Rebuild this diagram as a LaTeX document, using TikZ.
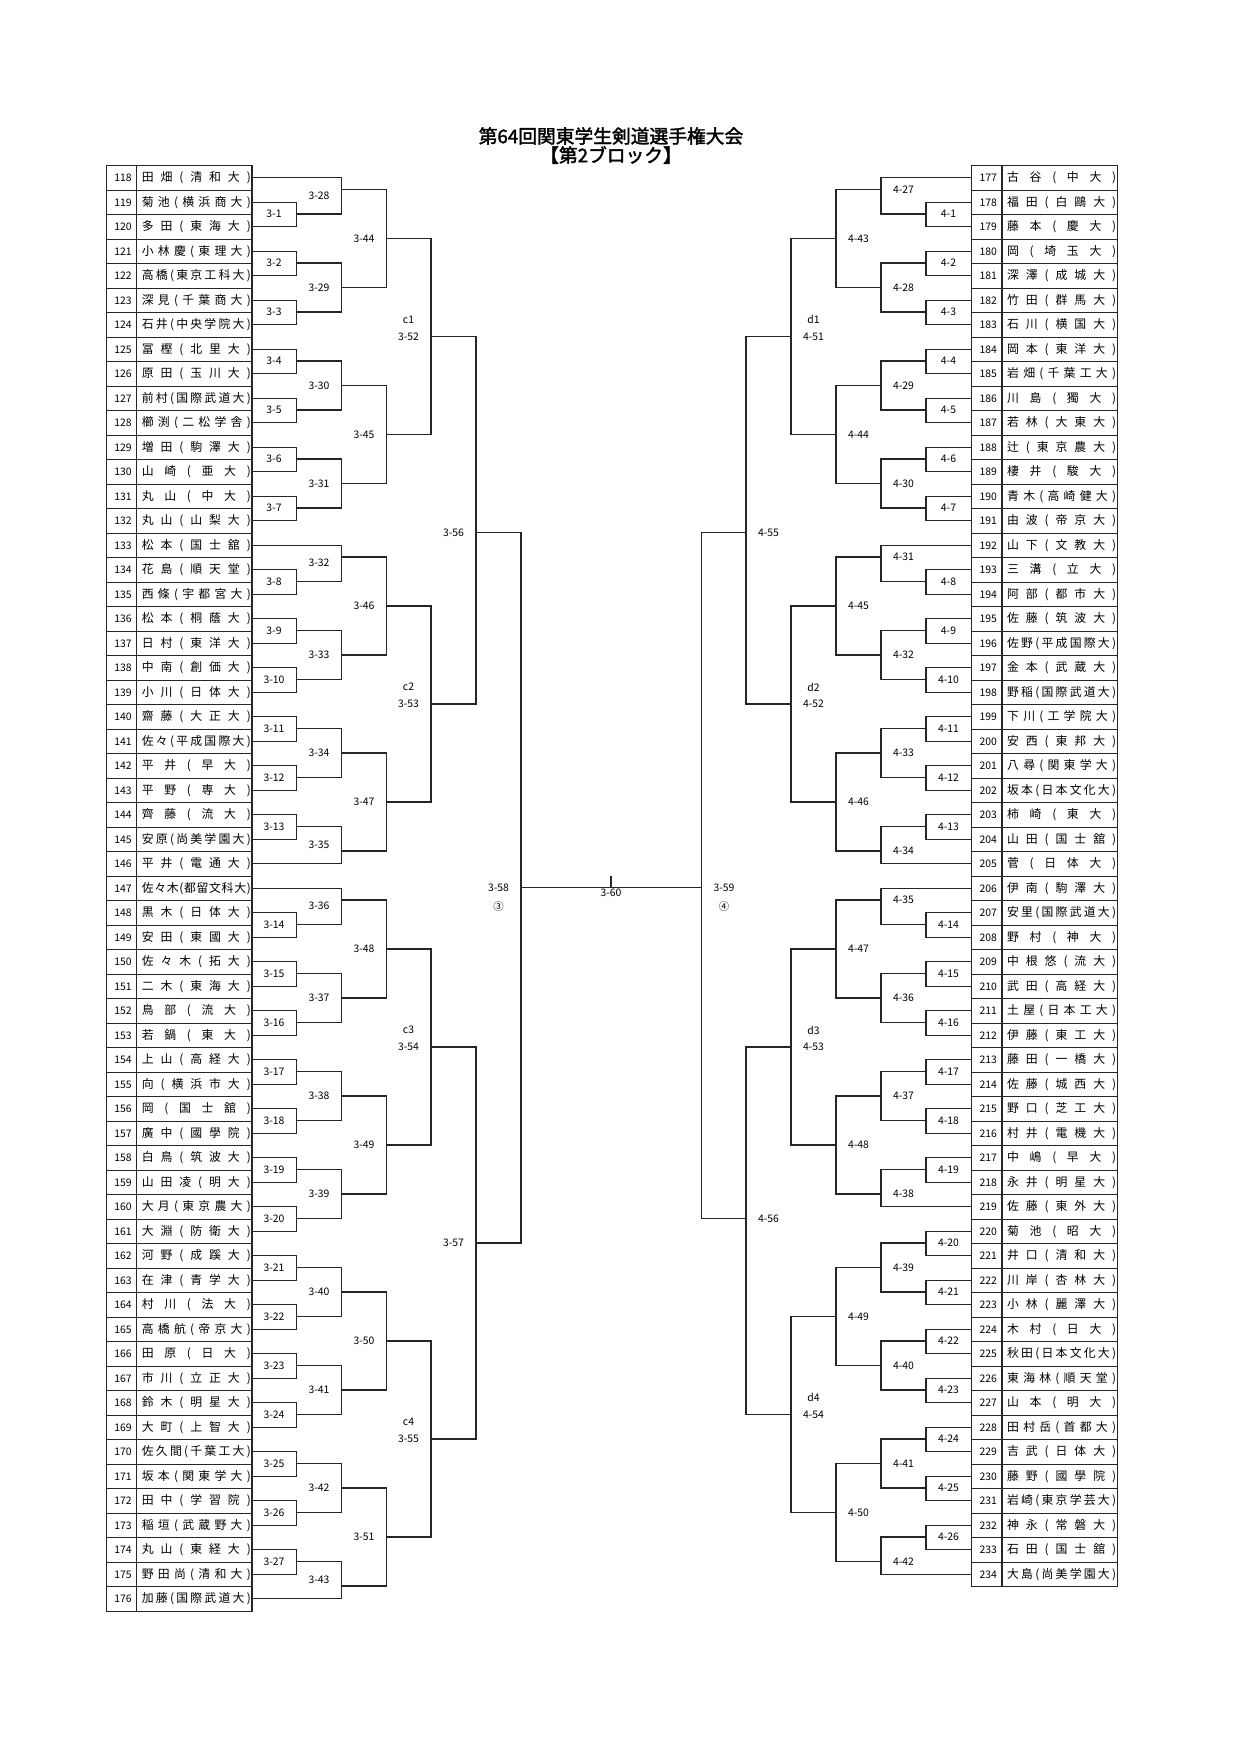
\documentclass[tikz,border=0pt]{standalone}
\usepackage{fontspec}
\setmainfont{Noto Sans CJK JP}[AutoFakeBold=2]
\usepackage{tikz}

\begin{document}
\begin{tikzpicture}[
            x=0.48pt, y=-11.76pt,
            tbl/.style={draw=black!85, line width=0.6pt},
            player/.style={tbl, minimum width=69.9pt, minimum height=11.76pt, inner sep=0pt, anchor=north west},
            link/.style={draw=black!85, line width=0.5pt},
            lbl/.style={inner sep=0.5pt, font=\fontsize{5}{6}\selectfont},
            lbl L/.style={lbl, xshift=-10.8pt},
            lbl R/.style={lbl, xshift=10.8pt},
            lbl up/.style={yshift=2.94pt},
            lbl down/.style={yshift=-2.94pt},
            heading/.style={font=\bfseries\fontsize{9}{10}\selectfont, inner sep=0pt},
            ]
            \def\pl#1#2{\makebox[14.9pt]{\fontsize{5}{6}\selectfont #1}\hspace{1.6pt}\hbox to 52.3pt{\fontsize{5.7}{6}\selectfont\spaceskip=0pt plus 1fil\relax #2}}
            \def\XL{105.7}
            \def\XR{971}
            \def\Xa{296.5} \def\Xb{341.5} \def\Xc{386.5} \def\Xd{431} \def\Xe{476} \def\Xf{521}
            \def\Ya{926} \def\Yb{881} \def\Yc{836} \def\Yd{791} \def\Ye{746} \def\Yf{701.5}

            \fill[white] (0,-6.7347) rectangle (1240,64.8163);

            \node[heading] (t1) at (611,-1.184) {第64回関東学生剣道選手権大会};
            \node[heading] (t2) at (611,-0.408) {【第2ブロック】};

            \node[player] (p118) at (\XL,0) {\pl{118}{田 畑 ( 清 和 大 )}};
            \node[player] (p119) at (\XL,1) {\pl{119}{菊 池 ( 横 浜 商 大 )}};
            \node[player] (p120) at (\XL,2) {\pl{120}{多 田 ( 東 海 大 )}};
            \node[player] (p121) at (\XL,3) {\pl{121}{小 林 慶 ( 東 理 大 )}};
            \node[player] (p122) at (\XL,4) {\pl{122}{高 橋 ( 東 京 工 科 大 )}};
            \node[player] (p123) at (\XL,5) {\pl{123}{深 見 ( 千 葉 商 大 )}};
            \node[player] (p124) at (\XL,6) {\pl{124}{石 井 ( 中 央 学 院 大 )}};
            \node[player] (p125) at (\XL,7) {\pl{125}{冨 樫 ( 北 里 大 )}};
            \node[player] (p126) at (\XL,8) {\pl{126}{原 田 ( 玉 川 大 )}};
            \node[player] (p127) at (\XL,9) {\pl{127}{前 村 ( 国 際 武 道 大 )}};
            \node[player] (p128) at (\XL,10) {\pl{128}{櫛 渕 ( 二 松 学 舎 )}};
            \node[player] (p129) at (\XL,11) {\pl{129}{増 田 ( 駒 澤 大 )}};
            \node[player] (p130) at (\XL,12) {\pl{130}{山 崎 ( 亜 大 )}};
            \node[player] (p131) at (\XL,13) {\pl{131}{丸 山 ( 中 大 )}};
            \node[player] (p132) at (\XL,14) {\pl{132}{丸 山 ( 山 梨 大 )}};
            \node[player] (p133) at (\XL,15) {\pl{133}{松 本 ( 国 士 舘 )}};
            \node[player] (p134) at (\XL,16) {\pl{134}{花 島 ( 順 天 堂 )}};
            \node[player] (p135) at (\XL,17) {\pl{135}{西 條 ( 宇 都 宮 大 )}};
            \node[player] (p136) at (\XL,18) {\pl{136}{松 本 ( 桐 蔭 大 )}};
            \node[player] (p137) at (\XL,19) {\pl{137}{日 村 ( 東 洋 大 )}};
            \node[player] (p138) at (\XL,20) {\pl{138}{中 南 ( 創 価 大 )}};
            \node[player] (p139) at (\XL,21) {\pl{139}{小 川 ( 日 体 大 )}};
            \node[player] (p140) at (\XL,22) {\pl{140}{齋 藤 ( 大 正 大 )}};
            \node[player] (p141) at (\XL,23) {\pl{141}{佐 々 ( 平 成 国 際 大 )}};
            \node[player] (p142) at (\XL,24) {\pl{142}{平 井 ( 早 大 )}};
            \node[player] (p143) at (\XL,25) {\pl{143}{平 野 ( 専 大 )}};
            \node[player] (p144) at (\XL,26) {\pl{144}{齊 藤 ( 流 大 )}};
            \node[player] (p145) at (\XL,27) {\pl{145}{安 原 ( 尚 美 学 園 大 )}};
            \node[player] (p146) at (\XL,28) {\pl{146}{平 井 ( 電 通 大 )}};
            \node[player] (p147) at (\XL,29) {\pl{147}{佐 々 木 ( 都 留 文 科 大 )}};
            \node[player] (p148) at (\XL,30) {\pl{148}{黒 木 ( 日 体 大 )}};
            \node[player] (p149) at (\XL,31) {\pl{149}{安 田 ( 東 國 大 )}};
            \node[player] (p150) at (\XL,32) {\pl{150}{佐 々 木 ( 拓 大 )}};
            \node[player] (p151) at (\XL,33) {\pl{151}{二 木 ( 東 海 大 )}};
            \node[player] (p152) at (\XL,34) {\pl{152}{鳥 部 ( 流 大 )}};
            \node[player] (p153) at (\XL,35) {\pl{153}{若 鍋 ( 東 大 )}};
            \node[player] (p154) at (\XL,36) {\pl{154}{上 山 ( 高 経 大 )}};
            \node[player] (p155) at (\XL,37) {\pl{155}{向 ( 横 浜 市 大 )}};
            \node[player] (p156) at (\XL,38) {\pl{156}{岡 ( 国 士 舘 )}};
            \node[player] (p157) at (\XL,39) {\pl{157}{廣 中 ( 國 學 院 )}};
            \node[player] (p158) at (\XL,40) {\pl{158}{白 鳥 ( 筑 波 大 )}};
            \node[player] (p159) at (\XL,41) {\pl{159}{山 田 凌 ( 明 大 )}};
            \node[player] (p160) at (\XL,42) {\pl{160}{大 月 ( 東 京 農 大 )}};
            \node[player] (p161) at (\XL,43) {\pl{161}{大 淵 ( 防 衛 大 )}};
            \node[player] (p162) at (\XL,44) {\pl{162}{河 野 ( 成 蹊 大 )}};
            \node[player] (p163) at (\XL,45) {\pl{163}{在 津 ( 青 学 大 )}};
            \node[player] (p164) at (\XL,46) {\pl{164}{村 川 ( 法 大 )}};
            \node[player] (p165) at (\XL,47) {\pl{165}{高 橋 航 ( 帝 京 大 )}};
            \node[player] (p166) at (\XL,48) {\pl{166}{田 原 ( 日 大 )}};
            \node[player] (p167) at (\XL,49) {\pl{167}{市 川 ( 立 正 大 )}};
            \node[player] (p168) at (\XL,50) {\pl{168}{鈴 木 ( 明 星 大 )}};
            \node[player] (p169) at (\XL,51) {\pl{169}{大 町 ( 上 智 大 )}};
            \node[player] (p170) at (\XL,52) {\pl{170}{佐 久 間 ( 千 葉 工 大 )}};
            \node[player] (p171) at (\XL,53) {\pl{171}{坂 本 ( 関 東 学 大 )}};
            \node[player] (p172) at (\XL,54) {\pl{172}{田 中 ( 学 習 院 )}};
            \node[player] (p173) at (\XL,55) {\pl{173}{稲 垣 ( 武 蔵 野 大 )}};
            \node[player] (p174) at (\XL,56) {\pl{174}{丸 山 ( 東 経 大 )}};
            \node[player] (p175) at (\XL,57) {\pl{175}{野 田 尚 ( 清 和 大 )}};
            \node[player] (p176) at (\XL,58) {\pl{176}{加 藤 ( 国 際 武 道 大 )}};

            \node[player] (p177) at (\XR,0) {\pl{177}{古 谷 ( 中 大 )}};
            \node[player] (p178) at (\XR,1) {\pl{178}{福 田 ( 白 鷗 大 )}};
            \node[player] (p179) at (\XR,2) {\pl{179}{藤 本 ( 慶 大 )}};
            \node[player] (p180) at (\XR,3) {\pl{180}{岡 ( 埼 玉 大 )}};
            \node[player] (p181) at (\XR,4) {\pl{181}{深 澤 ( 成 城 大 )}};
            \node[player] (p182) at (\XR,5) {\pl{182}{竹 田 ( 群 馬 大 )}};
            \node[player] (p183) at (\XR,6) {\pl{183}{石 川 ( 横 国 大 )}};
            \node[player] (p184) at (\XR,7) {\pl{184}{岡 本 ( 東 洋 大 )}};
            \node[player] (p185) at (\XR,8) {\pl{185}{岩 畑 ( 千 葉 工 大 )}};
            \node[player] (p186) at (\XR,9) {\pl{186}{川 島 ( 獨 大 )}};
            \node[player] (p187) at (\XR,10) {\pl{187}{若 林 ( 大 東 大 )}};
            \node[player] (p188) at (\XR,11) {\pl{188}{辻 ( 東 京 農 大 )}};
            \node[player] (p189) at (\XR,12) {\pl{189}{棲 井 ( 駿 大 )}};
            \node[player] (p190) at (\XR,13) {\pl{190}{青 木 ( 高 崎 健 大 )}};
            \node[player] (p191) at (\XR,14) {\pl{191}{由 波 ( 帝 京 大 )}};
            \node[player] (p192) at (\XR,15) {\pl{192}{山 下 ( 文 教 大 )}};
            \node[player] (p193) at (\XR,16) {\pl{193}{三 溝 ( 立 大 )}};
            \node[player] (p194) at (\XR,17) {\pl{194}{阿 部 ( 都 市 大 )}};
            \node[player] (p195) at (\XR,18) {\pl{195}{佐 藤 ( 筑 波 大 )}};
            \node[player] (p196) at (\XR,19) {\pl{196}{佐 野 ( 平 成 国 際 大 )}};
            \node[player] (p197) at (\XR,20) {\pl{197}{金 本 ( 武 蔵 大 )}};
            \node[player] (p198) at (\XR,21) {\pl{198}{野 稲 ( 国 際 武 道 大 )}};
            \node[player] (p199) at (\XR,22) {\pl{199}{下 川 ( 工 学 院 大 )}};
            \node[player] (p200) at (\XR,23) {\pl{200}{安 西 ( 東 邦 大 )}};
            \node[player] (p201) at (\XR,24) {\pl{201}{八 尋 ( 関 東 学 大 )}};
            \node[player] (p202) at (\XR,25) {\pl{202}{坂 本 ( 日 本 文 化 大 )}};
            \node[player] (p203) at (\XR,26) {\pl{203}{柿 崎 ( 東 大 )}};
            \node[player] (p204) at (\XR,27) {\pl{204}{山 田 ( 国 士 舘 )}};
            \node[player] (p205) at (\XR,28) {\pl{205}{菅 ( 日 体 大 )}};
            \node[player] (p206) at (\XR,29) {\pl{206}{伊 南 ( 駒 澤 大 )}};
            \node[player] (p207) at (\XR,30) {\pl{207}{安 里 ( 国 際 武 道 大 )}};
            \node[player] (p208) at (\XR,31) {\pl{208}{野 村 ( 神 大 )}};
            \node[player] (p209) at (\XR,32) {\pl{209}{中 根 悠 ( 流 大 )}};
            \node[player] (p210) at (\XR,33) {\pl{210}{武 田 ( 高 経 大 )}};
            \node[player] (p211) at (\XR,34) {\pl{211}{土 屋 ( 日 本 工 大 )}};
            \node[player] (p212) at (\XR,35) {\pl{212}{伊 藤 ( 東 工 大 )}};
            \node[player] (p213) at (\XR,36) {\pl{213}{藤 田 ( 一 橋 大 )}};
            \node[player] (p214) at (\XR,37) {\pl{214}{佐 藤 ( 城 西 大 )}};
            \node[player] (p215) at (\XR,38) {\pl{215}{野 口 ( 芝 工 大 )}};
            \node[player] (p216) at (\XR,39) {\pl{216}{村 井 ( 電 機 大 )}};
            \node[player] (p217) at (\XR,40) {\pl{217}{中 嶋 ( 早 大 )}};
            \node[player] (p218) at (\XR,41) {\pl{218}{永 井 ( 明 星 大 )}};
            \node[player] (p219) at (\XR,42) {\pl{219}{佐 藤 ( 東 外 大 )}};
            \node[player] (p220) at (\XR,43) {\pl{220}{菊 池 ( 昭 大 )}};
            \node[player] (p221) at (\XR,44) {\pl{221}{井 口 ( 清 和 大 )}};
            \node[player] (p222) at (\XR,45) {\pl{222}{川 岸 ( 杏 林 大 )}};
            \node[player] (p223) at (\XR,46) {\pl{223}{小 林 ( 麗 澤 大 )}};
            \node[player] (p224) at (\XR,47) {\pl{224}{木 村 ( 日 大 )}};
            \node[player] (p225) at (\XR,48) {\pl{225}{秋 田 ( 日 本 文 化 大 )}};
            \node[player] (p226) at (\XR,49) {\pl{226}{東 海 林 ( 順 天 堂 )}};
            \node[player] (p227) at (\XR,50) {\pl{227}{山 本 ( 明 大 )}};
            \node[player] (p228) at (\XR,51) {\pl{228}{田 村 岳 ( 首 都 大 )}};
            \node[player] (p229) at (\XR,52) {\pl{229}{吉 武 ( 日 体 大 )}};
            \node[player] (p230) at (\XR,53) {\pl{230}{藤 野 ( 國 學 院 )}};
            \node[player] (p231) at (\XR,54) {\pl{231}{岩 崎 ( 東 京 学 芸 大 )}};
            \node[player] (p232) at (\XR,55) {\pl{232}{神 永 ( 常 磐 大 )}};
            \node[player] (p233) at (\XR,56) {\pl{233}{石 田 ( 国 士 舘 )}};
            \node[player] (p234) at (\XR,57) {\pl{234}{大 島 ( 尚 美 学 園 大 )}};

            \draw[tbl] ([xshift=14.88pt]p118.north west) -- ([xshift=14.88pt]p176.south west);
            \draw[tbl] ([xshift=14.88pt]p177.north west) -- ([xshift=14.88pt]p234.south west);

            \draw[link] (p119.east) -| (\Xa,2) coordinate (m3-1) node[lbl L] {3-1} |- (p120.east);
            \draw[link] (p121.east) -| (\Xa,4) coordinate (m3-2) node[lbl L] {3-2} |- (p122.east);
            \draw[link] (p123.east) -| (\Xa,6) coordinate (m3-3) node[lbl L] {3-3} |- (p124.east);
            \draw[link] (p125.east) -| (\Xa,8) coordinate (m3-4) node[lbl L] {3-4} |- (p126.east);
            \draw[link] (p127.east) -| (\Xa,10) coordinate (m3-5) node[lbl L] {3-5} |- (p128.east);
            \draw[link] (p129.east) -| (\Xa,12) coordinate (m3-6) node[lbl L] {3-6} |- (p130.east);
            \draw[link] (p131.east) -| (\Xa,14) coordinate (m3-7) node[lbl L] {3-7} |- (p132.east);
            \draw[link] (p134.east) -| (\Xa,17) coordinate (m3-8) node[lbl L] {3-8} |- (p135.east);
            \draw[link] (p136.east) -| (\Xa,19) coordinate (m3-9) node[lbl L] {3-9} |- (p137.east);
            \draw[link] (p138.east) -| (\Xa,21) coordinate (m3-10) node[lbl L] {3-10} |- (p139.east);
            \draw[link] (p140.east) -| (\Xa,23) coordinate (m3-11) node[lbl L] {3-11} |- (p141.east);
            \draw[link] (p142.east) -| (\Xa,25) coordinate (m3-12) node[lbl L] {3-12} |- (p143.east);
            \draw[link] (p144.east) -| (\Xa,27) coordinate (m3-13) node[lbl L] {3-13} |- (p145.east);
            \draw[link] (p148.east) -| (\Xa,31) coordinate (m3-14) node[lbl L] {3-14} |- (p149.east);
            \draw[link] (p150.east) -| (\Xa,33) coordinate (m3-15) node[lbl L] {3-15} |- (p151.east);
            \draw[link] (p152.east) -| (\Xa,35) coordinate (m3-16) node[lbl L] {3-16} |- (p153.east);
            \draw[link] (p154.east) -| (\Xa,37) coordinate (m3-17) node[lbl L] {3-17} |- (p155.east);
            \draw[link] (p156.east) -| (\Xa,39) coordinate (m3-18) node[lbl L] {3-18} |- (p157.east);
            \draw[link] (p158.east) -| (\Xa,41) coordinate (m3-19) node[lbl L] {3-19} |- (p159.east);
            \draw[link] (p160.east) -| (\Xa,43) coordinate (m3-20) node[lbl L] {3-20} |- (p161.east);
            \draw[link] (p162.east) -| (\Xa,45) coordinate (m3-21) node[lbl L] {3-21} |- (p163.east);
            \draw[link] (p164.east) -| (\Xa,47) coordinate (m3-22) node[lbl L] {3-22} |- (p165.east);
            \draw[link] (p166.east) -| (\Xa,49) coordinate (m3-23) node[lbl L] {3-23} |- (p167.east);
            \draw[link] (p168.east) -| (\Xa,51) coordinate (m3-24) node[lbl L] {3-24} |- (p169.east);
            \draw[link] (p170.east) -| (\Xa,53) coordinate (m3-25) node[lbl L] {3-25} |- (p171.east);
            \draw[link] (p172.east) -| (\Xa,55) coordinate (m3-26) node[lbl L] {3-26} |- (p173.east);
            \draw[link] (p174.east) -| (\Xa,57) coordinate (m3-27) node[lbl L] {3-27} |- (p175.east);

            \draw[link] (p118.east) -| (\Xb,1) coordinate (m3-28) node[lbl L, lbl down] {3-28} |- (m3-1);
            \draw[link] (m3-2) -| (\Xb,5) coordinate (m3-29) node[lbl L] {3-29} |- (m3-3);
            \draw[link] (m3-4) -| (\Xb,9) coordinate (m3-30) node[lbl L] {3-30} |- (m3-5);
            \draw[link] (m3-6) -| (\Xb,13) coordinate (m3-31) node[lbl L] {3-31} |- (m3-7);
            \draw[link] (p133.east) -| (\Xb,16) coordinate (m3-32) node[lbl L, lbl down] {3-32} |- (m3-8);
            \draw[link] (m3-9) -| (\Xb,20) coordinate (m3-33) node[lbl L] {3-33} |- (m3-10);
            \draw[link] (m3-11) -| (\Xb,24) coordinate (m3-34) node[lbl L] {3-34} |- (m3-12);
            \draw[link] (m3-13) -| (\Xb,28) coordinate (m3-35) node[lbl L, lbl up] {3-35} |- (p146.east);
            \draw[link] (p147.east) -| (\Xb,30) coordinate (m3-36) node[lbl L, lbl down] {3-36} |- (m3-14);
            \draw[link] (m3-15) -| (\Xb,34) coordinate (m3-37) node[lbl L] {3-37} |- (m3-16);
            \draw[link] (m3-17) -| (\Xb,38) coordinate (m3-38) node[lbl L] {3-38} |- (m3-18);
            \draw[link] (m3-19) -| (\Xb,42) coordinate (m3-39) node[lbl L] {3-39} |- (m3-20);
            \draw[link] (m3-21) -| (\Xb,46) coordinate (m3-40) node[lbl L] {3-40} |- (m3-22);
            \draw[link] (m3-23) -| (\Xb,50) coordinate (m3-41) node[lbl L] {3-41} |- (m3-24);
            \draw[link] (m3-25) -| (\Xb,54) coordinate (m3-42) node[lbl L] {3-42} |- (m3-26);
            \draw[link] (m3-27) -| (\Xb,58) coordinate (m3-43) node[lbl L, lbl up] {3-43} |- (p176.east);

            \draw[link] (m3-28) -| (\Xc,3) coordinate (m3-44) node[lbl L] {3-44} |- (m3-29);
            \draw[link] (m3-30) -| (\Xc,11) coordinate (m3-45) node[lbl L] {3-45} |- (m3-31);
            \draw[link] (m3-32) -| (\Xc,18) coordinate (m3-46) node[lbl L] {3-46} |- (m3-33);
            \draw[link] (m3-34) -| (\Xc,26) coordinate (m3-47) node[lbl L] {3-47} |- (m3-35);
            \draw[link] (m3-36) -| (\Xc,32) coordinate (m3-48) node[lbl L] {3-48} |- (m3-37);
            \draw[link] (m3-38) -| (\Xc,40) coordinate (m3-49) node[lbl L] {3-49} |- (m3-39);
            \draw[link] (m3-40) -| (\Xc,48) coordinate (m3-50) node[lbl L] {3-50} |- (m3-41);
            \draw[link] (m3-42) -| (\Xc,56) coordinate (m3-51) node[lbl L] {3-51} |- (m3-43);

            \draw[link] (m3-44) -| (\Xd,7) coordinate (m3-52) node[lbl L] {3-52} node[lbl L, yshift=8.2pt] {c1} |- (m3-45);
            \draw[link] (m3-46) -| (\Xd,22) coordinate (m3-53) node[lbl L] {3-53} node[lbl L, yshift=8.2pt] {c2} |- (m3-47);
            \draw[link] (m3-48) -| (\Xd,36) coordinate (m3-54) node[lbl L] {3-54} node[lbl L, yshift=8.2pt] {c3} |- (m3-49);
            \draw[link] (m3-50) -| (\Xd,52) coordinate (m3-55) node[lbl L] {3-55} node[lbl L, yshift=8.2pt] {c4} |- (m3-51);

            \draw[link] (m3-52) -| (\Xe,15) coordinate (m3-56) node[lbl L] {3-56} |- (m3-53);
            \draw[link] (m3-54) -| (\Xe,44) coordinate (m3-57) node[lbl L] {3-57} |- (m3-55);

            \draw[link] (m3-56) -| (\Xf,29.5) coordinate (m3-58) node[lbl L] {3-58} node[lbl L, yshift=-9pt] {③} |- (m3-57);

            \draw[link] (p178.west) -| (\Ya,2) coordinate (m4-1) node[lbl R] {4-1} |- (p179.west);
            \draw[link] (p180.west) -| (\Ya,4) coordinate (m4-2) node[lbl R] {4-2} |- (p181.west);
            \draw[link] (p182.west) -| (\Ya,6) coordinate (m4-3) node[lbl R] {4-3} |- (p183.west);
            \draw[link] (p184.west) -| (\Ya,8) coordinate (m4-4) node[lbl R] {4-4} |- (p185.west);
            \draw[link] (p186.west) -| (\Ya,10) coordinate (m4-5) node[lbl R] {4-5} |- (p187.west);
            \draw[link] (p188.west) -| (\Ya,12) coordinate (m4-6) node[lbl R] {4-6} |- (p189.west);
            \draw[link] (p190.west) -| (\Ya,14) coordinate (m4-7) node[lbl R] {4-7} |- (p191.west);
            \draw[link] (p193.west) -| (\Ya,17) coordinate (m4-8) node[lbl R] {4-8} |- (p194.west);
            \draw[link] (p195.west) -| (\Ya,19) coordinate (m4-9) node[lbl R] {4-9} |- (p196.west);
            \draw[link] (p197.west) -| (\Ya,21) coordinate (m4-10) node[lbl R] {4-10} |- (p198.west);
            \draw[link] (p199.west) -| (\Ya,23) coordinate (m4-11) node[lbl R] {4-11} |- (p200.west);
            \draw[link] (p201.west) -| (\Ya,25) coordinate (m4-12) node[lbl R] {4-12} |- (p202.west);
            \draw[link] (p203.west) -| (\Ya,27) coordinate (m4-13) node[lbl R] {4-13} |- (p204.west);
            \draw[link] (p207.west) -| (\Ya,31) coordinate (m4-14) node[lbl R] {4-14} |- (p208.west);
            \draw[link] (p209.west) -| (\Ya,33) coordinate (m4-15) node[lbl R] {4-15} |- (p210.west);
            \draw[link] (p211.west) -| (\Ya,35) coordinate (m4-16) node[lbl R] {4-16} |- (p212.west);
            \draw[link] (p213.west) -| (\Ya,37) coordinate (m4-17) node[lbl R] {4-17} |- (p214.west);
            \draw[link] (p215.west) -| (\Ya,39) coordinate (m4-18) node[lbl R] {4-18} |- (p216.west);
            \draw[link] (p217.west) -| (\Ya,41) coordinate (m4-19) node[lbl R] {4-19} |- (p218.west);
            \draw[link] (p220.west) -| (\Ya,44) coordinate (m4-20) node[lbl R] {4-20} |- (p221.west);
            \draw[link] (p222.west) -| (\Ya,46) coordinate (m4-21) node[lbl R] {4-21} |- (p223.west);
            \draw[link] (p224.west) -| (\Ya,48) coordinate (m4-22) node[lbl R] {4-22} |- (p225.west);
            \draw[link] (p226.west) -| (\Ya,50) coordinate (m4-23) node[lbl R] {4-23} |- (p227.west);
            \draw[link] (p228.west) -| (\Ya,52) coordinate (m4-24) node[lbl R] {4-24} |- (p229.west);
            \draw[link] (p230.west) -| (\Ya,54) coordinate (m4-25) node[lbl R] {4-25} |- (p231.west);
            \draw[link] (p232.west) -| (\Ya,56) coordinate (m4-26) node[lbl R] {4-26} |- (p233.west);

            \draw[link] (p177.west) -| (\Yb,1) coordinate (m4-27) node[lbl R] {4-27} |- (m4-1);
            \draw[link] (m4-2) -| (\Yb,5) coordinate (m4-28) node[lbl R] {4-28} |- (m4-3);
            \draw[link] (m4-4) -| (\Yb,9) coordinate (m4-29) node[lbl R] {4-29} |- (m4-5);
            \draw[link] (m4-6) -| (\Yb,13) coordinate (m4-30) node[lbl R] {4-30} |- (m4-7);
            \draw[link] (p192.west) -| (\Yb,16) coordinate (m4-31) node[lbl R] {4-31} |- (m4-8);
            \draw[link] (m4-9) -| (\Yb,20) coordinate (m4-32) node[lbl R] {4-32} |- (m4-10);
            \draw[link] (m4-11) -| (\Yb,24) coordinate (m4-33) node[lbl R] {4-33} |- (m4-12);
            \draw[link] (m4-13) -| (\Yb,28) coordinate (m4-34) node[lbl R] {4-34} |- (p205.west);
            \draw[link] (p206.west) -| (\Yb,30) coordinate (m4-35) node[lbl R] {4-35} |- (m4-14);
            \draw[link] (m4-15) -| (\Yb,34) coordinate (m4-36) node[lbl R] {4-36} |- (m4-16);
            \draw[link] (m4-17) -| (\Yb,38) coordinate (m4-37) node[lbl R] {4-37} |- (m4-18);
            \draw[link] (m4-19) -| (\Yb,42) coordinate (m4-38) node[lbl R] {4-38} |- (p219.west);
            \draw[link] (m4-20) -| (\Yb,45) coordinate (m4-39) node[lbl R] {4-39} |- (m4-21);
            \draw[link] (m4-22) -| (\Yb,49) coordinate (m4-40) node[lbl R] {4-40} |- (m4-23);
            \draw[link] (m4-24) -| (\Yb,53) coordinate (m4-41) node[lbl R] {4-41} |- (m4-25);
            \draw[link] (m4-26) -| (\Yb,57) coordinate (m4-42) node[lbl R] {4-42} |- (p234.west);

            \draw[link] (m4-27) -| (\Yc,3) coordinate (m4-43) node[lbl R] {4-43} |- (m4-28);
            \draw[link] (m4-29) -| (\Yc,11) coordinate (m4-44) node[lbl R] {4-44} |- (m4-30);
            \draw[link] (m4-31) -| (\Yc,18) coordinate (m4-45) node[lbl R] {4-45} |- (m4-32);
            \draw[link] (m4-33) -| (\Yc,26) coordinate (m4-46) node[lbl R] {4-46} |- (m4-34);
            \draw[link] (m4-35) -| (\Yc,32) coordinate (m4-47) node[lbl R] {4-47} |- (m4-36);
            \draw[link] (m4-37) -| (\Yc,40) coordinate (m4-48) node[lbl R] {4-48} |- (m4-38);
            \draw[link] (m4-39) -| (\Yc,47) coordinate (m4-49) node[lbl R] {4-49} |- (m4-40);
            \draw[link] (m4-41) -| (\Yc,55) coordinate (m4-50) node[lbl R] {4-50} |- (m4-42);

            \draw[link] (m4-43) -| (\Yd,7) coordinate (m4-51) node[lbl R] {4-51} node[lbl R, yshift=8.2pt] {d1} |- (m4-44);
            \draw[link] (m4-45) -| (\Yd,22) coordinate (m4-52) node[lbl R] {4-52} node[lbl R, yshift=8.2pt] {d2} |- (m4-46);
            \draw[link] (m4-47) -| (\Yd,36) coordinate (m4-53) node[lbl R] {4-53} node[lbl R, yshift=8.2pt] {d3} |- (m4-48);
            \draw[link] (m4-49) -| (\Yd,51) coordinate (m4-54) node[lbl R] {4-54} node[lbl R, yshift=8.2pt] {d4} |- (m4-50);

            \draw[link] (m4-51) -| (\Ye,15) coordinate (m4-55) node[lbl R] {4-55} |- (m4-52);
            \draw[link] (m4-53) -| (\Ye,43) coordinate (m4-56) node[lbl R] {4-56} |- (m4-54);

            \draw[link] (m4-55) -| (\Yf,29.5) coordinate (m3-59) node[lbl R] {3-59} node[lbl R, yshift=-9pt] {④} |- (m4-56);

            \coordinate (fin) at (611,29.5);
            \draw[link] (m3-58) -- (m3-59);
            \draw[link] (fin) -- ++(0,-0.5);
            \node[lbl, below] (f) at (fin) {3-60};
        \end{tikzpicture}
\end{document}
